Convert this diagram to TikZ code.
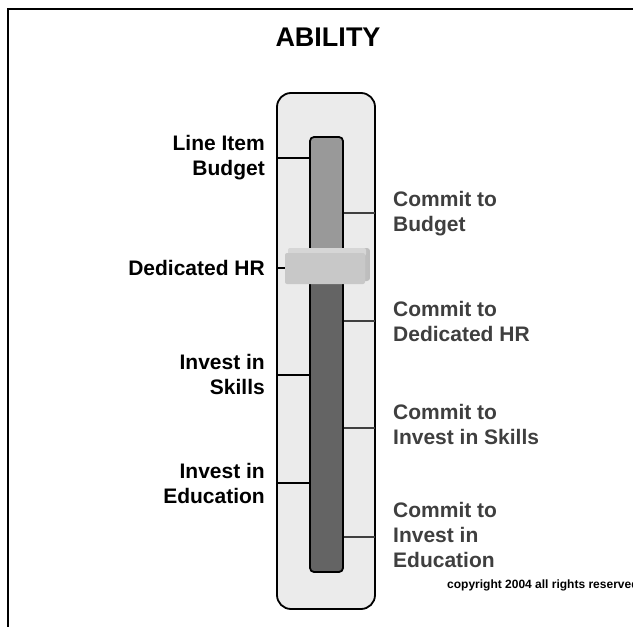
\documentclass[tikz,border=0pt]{standalone}
\usepackage{fontspec}
\setmainfont{Liberation Sans}
\usepackage{tikz}
\usetikzlibrary{positioning}

\definecolor{panelgray}{HTML}{EBEBEB}
\definecolor{trackup}{HTML}{999999}
\definecolor{trackdown}{HTML}{646464}
\definecolor{knobface}{HTML}{C8C8C8}
\definecolor{commitgray}{HTML}{3F3F3F}

\tikzset{
  labelfont/.style={font=\fontsize{21}{25}\selectfont\bfseries},
  levellabel/.style={labelfont, anchor=east, align=right, inner sep=0pt},
  commitlabel/.style={labelfont, anchor=west, align=left, inner sep=0pt,
    text=commitgray},
  leveltick/.style={line width=2pt},
  committick/.style={line width=2.5pt, draw=commitgray}
}

\begin{document}
\begin{tikzpicture}[x=1pt, y=-1pt]
\useasboundingbox (0,0) rectangle (633,627);
\clip (0,0) rectangle (633,627);

% frame
\draw[line width=2pt] (8,640) -- (8,9) -- (650,9);

\node (title) at (328,37) {\fontsize{27}{30}\selectfont\bfseries ABILITY};

% panel and ticks
\draw[fill=panelgray, line width=1.8pt, rounded corners=14pt]
  (277,93) rectangle (375,609);

\coordinate (lb) at (277,158);
\coordinate (lhr) at (277,268);
\coordinate (ls) at (277,375);
\coordinate (le) at (277,483);
\coordinate (rb) at (375,213);
\coordinate (rhr) at (375,321);
\coordinate (rs) at (375,428);
\coordinate (re) at (375,537);
\coordinate (trackL) at (310,0);
\coordinate (trackR) at (343,0);

\draw[leveltick] (lb) -- (lb -| trackL);
\draw[leveltick] (lhr) -- (lhr -| trackL);
\draw[leveltick] (ls) -- (ls -| trackL);
\draw[leveltick] (le) -- (le -| trackL);
\draw[committick] (rb) -- (rb -| trackR);
\draw[committick] (rhr) -- (rhr -| trackR);
\draw[committick] (rs) -- (rs -| trackR);
\draw[committick] (re) -- (re -| trackR);

% track
\fill[trackdown, rounded corners=4pt] (310,137) rectangle (343,572);
\begin{scope}
  \clip[rounded corners=4pt] (310,137) rectangle (343,572);
  \fill[trackup] (310,137) rectangle (343,266);
\end{scope}
\draw[line width=1.8pt, rounded corners=4pt] (310,137) rectangle (343,572);

% slider knob
\shade[left color=white!86!black, right color=white!74!black,
  rounded corners=3pt] (288,248) rectangle (370,281);
\fill[white!84!black, rounded corners=2pt] (288,248) rectangle (366,256);
\fill[knobface, rounded corners=2pt] (285,253) rectangle (365,284);

% labels
\node[levellabel] (budget) at (265,158) {Line Item\\Budget};
\node[levellabel] (hr) at (265,268) {Dedicated HR};
\node[levellabel] (skills) at (265,374) {Invest in\\Skills};
\node[levellabel] (educ) at (265,483) {Invest in\\Education};

\node[commitlabel] (cbudget) at (393,214) {Commit to\\Budget};
\node[commitlabel] (chr) at (393,321) {Commit to\\Dedicated HR};
\node[commitlabel] (cskills) at (393,424) {Commit to\\Invest in Skills};
\node[commitlabel] (ceduc) at (393,535) {Commit to\\Invest in\\Education};

\node[anchor=west, inner sep=0pt] (copy) at (447,585)
  {\fontsize{12}{14}\selectfont\bfseries copyright 2004 all rights reserved};
\end{tikzpicture}
\end{document}
